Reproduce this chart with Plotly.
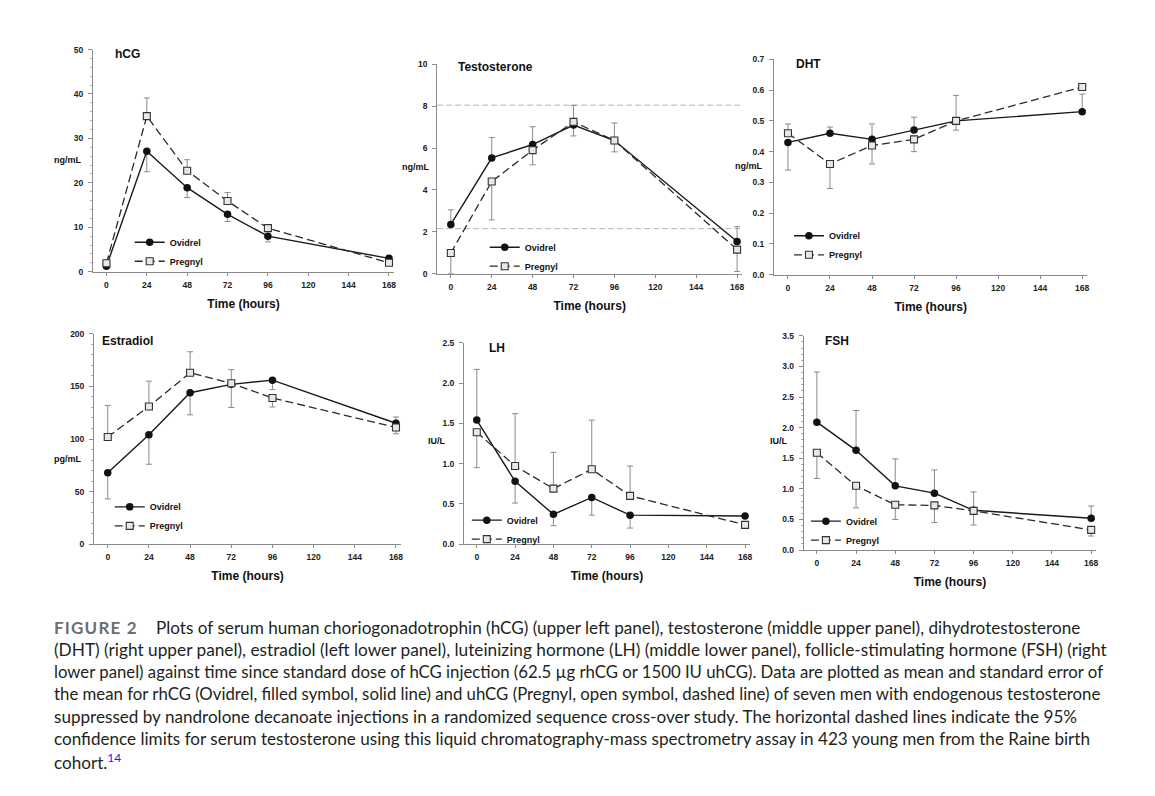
import plotly.graph_objects as go

# page pixels: the figure sits 8 px from the page's top-left corner (body margin)
OFF = 8
W, H = 1155 - OFF, 796 - OFF

hours = [0, 24, 48, 72, 96, 168]
x_ticks = [0, 24, 48, 72, 96, 120, 144, 168]
series_names = ["Ovidrel", "Pregnyl"]

# hCG (ng/mL)
hcg_ovidrel = [1.2, 27.1, 18.9, 12.9, 8.0, 3.0]
hcg_ovidrel_up = [0, 0, 0, 0, 0, 0.3]
hcg_ovidrel_dn = [0.3, 4.6, 2.2, 1.6, 1.3, 0]
hcg_pregnyl = [1.9, 35.0, 22.7, 15.9, 9.8, 2.0]
hcg_pregnyl_up = [0.4, 4.1, 2.5, 1.9, 0.5, 0]
hcg_pregnyl_dn = [0, 0, 0, 0, 0, 0.3]

# Testosterone (ng/mL)
testo_ovidrel = [2.35, 5.53, 6.17, 7.1, 6.36, 1.54]
testo_ovidrel_up = [0.70, 0.97, 0.85, 0, 0.84, 0.70]
testo_ovidrel_dn = [0, 0, 0, 0.52, 0, 0]
testo_pregnyl = [0.99, 4.4, 5.9, 7.25, 6.36, 1.15]
testo_pregnyl_up = [0, 0, 0, 0.79, 0, 0]
testo_pregnyl_dn = [0.99, 1.83, 0.70, 0, 0.54, 1.05]
testo_ref_limits = [8.05, 2.15]

# DHT (ng/mL)
dht_ovidrel = [0.43, 0.46, 0.44, 0.47, 0.50, 0.53]
dht_ovidrel_up = [0, 0.02, 0.05, 0.042, 0.083, 0.057]
dht_ovidrel_dn = [0.09, 0, 0, 0, 0, 0]
dht_pregnyl = [0.46, 0.36, 0.42, 0.44, 0.50, 0.61]
dht_pregnyl_up = [0.03, 0, 0, 0, 0, 0]
dht_pregnyl_dn = [0, 0.08, 0.06, 0.04, 0.03, 0]

# Estradiol (pg/mL)
e2_ovidrel = [68, 104, 144, 152, 156, 115]
e2_ovidrel_up = [0, 0, 0, 0, 0, 6]
e2_ovidrel_dn = [25, 28, 21, 22, 9, 0]
e2_pregnyl = [102, 131, 163, 153, 139, 111]
e2_pregnyl_up = [30, 24, 20, 13, 0, 0]
e2_pregnyl_dn = [0, 0, 0, 0, 8.5, 6]

# LH (IU/L)
lh_ovidrel = [1.54, 0.78, 0.37, 0.58, 0.36, 0.35]
lh_ovidrel_up = [0.63, 0, 0, 0, 0, 0]
lh_ovidrel_dn = [0, 0.27, 0.14, 0.22, 0.16, 0]
lh_pregnyl = [1.39, 0.97, 0.69, 0.93, 0.60, 0.24]
lh_pregnyl_up = [0, 0.65, 0.45, 0.61, 0.37, 0]
lh_pregnyl_dn = [0.44, 0, 0, 0, 0, 0]

# FSH (IU/L)
fsh_ovidrel = [2.09, 1.63, 1.05, 0.93, 0.65, 0.52]
fsh_ovidrel_up = [0.82, 0.65, 0.44, 0.38, 0.30, 0.20]
fsh_ovidrel_dn = [0, 0, 0, 0, 0, 0]
fsh_pregnyl = [1.59, 1.05, 0.74, 0.73, 0.64, 0.33]
fsh_pregnyl_up = [0, 0, 0, 0, 0, 0]
fsh_pregnyl_dn = [0.42, 0.36, 0.24, 0.28, 0.23, 0.10]

panel_titles = ["hCG", "Testosterone", "DHT", "Estradiol", "LH", "FSH"]
panel_units = ["ng/mL", "ng/mL", "ng/mL", "pg/mL", "IU/L", "IU/L"]

caption_label = "FIGURE 2"
caption_lines = [
    "Plots of serum human choriogonadotrophin (hCG) (upper left panel), testosterone (middle upper panel), dihydrotestosterone",
    "(DHT) (right upper panel), estradiol (left lower panel), luteinizing hormone (LH) (middle lower panel), follicle-stimulating hormone (FSH) (right",
    "lower panel) against time since standard dose of hCG injection (62.5 µg rhCG or 1500 IU uhCG). Data are plotted as mean and standard error of",
    "the mean for rhCG (Ovidrel, filled symbol, solid line) and uhCG (Pregnyl, open symbol, dashed line) of seven men with endogenous testosterone",
    "suppressed by nandrolone decanoate injections in a randomized sequence cross-over study. The horizontal dashed lines indicate the 95%",
    "confidence limits for serum testosterone using this liquid chromatography-mass spectrometry assay in 423 young men from the Raine birth",
    "cohort.<sup><span style='color:#1a1aff'>14</span></sup>",
]


def px_x(px):
    return (px - OFF) / W


def px_y(py):
    return 1 - (py - OFF) / H


# ---------------- layout geometry (page pixels) ----------------
XR = [-8, 171]
# (x of hour 0, x of hour 168, y of value 0, y of top value)
geom = [
    (106.7, 390.0, 270, 45),
    (452.0, 739.0, 272, 60),
    (790.0, 1085.0, 273, 55),
    (108.0, 397.0, 546, 333),
    (478.0, 747.0, 546, 342),
    (819.0, 1094.0, 552, 335),
]
yranges = [[0, 50], [0, 10], [0, 0.7], [0, 200], [0, 2.5], [0, 3.5]]
ydticks = [10, 2, 0.1, 50, 0.5, 0.5]
yfmt = ["d", "d", ".1f", "d", ".1f", ".1f"]
yminor = [2, None, None, 10, None, 0.1]
unit_pos = [(83, 157), (432, 164), (766, 163), (83, 460), (449, 442), (792, 442)]
title_pos = [(113, 50), (457, 63), (796, 60), (100, 340), (488, 347), (825, 340)]
legend_rows = [(137, 243, 257), (493, 249, 261), (798, 238, 249),
               (117, 512, 524), (475, 526, 537), (815, 527, 538)]

data_sets = [
    (hcg_ovidrel, hcg_ovidrel_up, hcg_ovidrel_dn, hcg_pregnyl, hcg_pregnyl_up, hcg_pregnyl_dn),
    (testo_ovidrel, testo_ovidrel_up, testo_ovidrel_dn, testo_pregnyl, testo_pregnyl_up, testo_pregnyl_dn),
    (dht_ovidrel, dht_ovidrel_up, dht_ovidrel_dn, dht_pregnyl, dht_pregnyl_up, dht_pregnyl_dn),
    (e2_ovidrel, e2_ovidrel_up, e2_ovidrel_dn, e2_pregnyl, e2_pregnyl_up, e2_pregnyl_dn),
    (lh_ovidrel, lh_ovidrel_up, lh_ovidrel_dn, lh_pregnyl, lh_pregnyl_up, lh_pregnyl_dn),
    (fsh_ovidrel, fsh_ovidrel_up, fsh_ovidrel_dn, fsh_pregnyl, fsh_pregnyl_up, fsh_pregnyl_dn),
]

FONT = "Liberation Sans, Arial, sans-serif"
AXC = "#8a8a8a"
ERRC = "#8a8a8a"

fig = go.Figure()
layout = dict(
    width=W, height=H,
    margin=dict(l=0, r=0, t=0, b=0),
    paper_bgcolor="white", plot_bgcolor="white",
    showlegend=True,
    annotations=[], shapes=[],
)

for i, (g, ds) in enumerate(zip(geom, data_sets)):
    n = i + 1
    sfx = "" if n == 1 else str(n)
    x0, x168, py0, pytop = g
    pph = (x168 - x0) / 168.0
    xl = x0 + XR[0] * pph
    xr = x0 + XR[1] * pph
    xdom = [px_x(xl), px_x(xr)]
    ydom = [px_y(py0), px_y(pytop)]
    leg = "legend" if n == 1 else "legend%d" % n

    ov, ovu, ovd, pr, pru, prd = ds
    fig.add_trace(go.Scatter(
        x=hours, y=ov, name=series_names[0], mode="lines+markers",
        xaxis="x" + sfx, yaxis="y" + sfx, legend=leg, cliponaxis=False,
        line=dict(color="#1a1a1a", width=1.4),
        marker=dict(symbol="circle", size=7.5, color="#111111"),
        error_y=dict(type="data", symmetric=False, array=ovu, arrayminus=ovd,
                     color=ERRC, thickness=1, width=3),
    ))
    fig.add_trace(go.Scatter(
        x=hours, y=pr, name=series_names[1], mode="lines+markers",
        xaxis="x" + sfx, yaxis="y" + sfx, legend=leg, cliponaxis=False,
        line=dict(color="#2a2a2a", width=1.3, dash="8px,4px"),
        marker=dict(symbol="square", size=7, color="#e8e8e8",
                    line=dict(color="#333333", width=1.1)),
        error_y=dict(type="data", symmetric=False, array=pru, arrayminus=prd,
                     color=ERRC, thickness=1, width=3),
    ))

    xa = dict(
        domain=xdom, anchor="y" + sfx, range=XR,
        tickmode="array", tickvals=x_ticks, ticktext=[str(v) for v in x_ticks],
        showline=True, linecolor=AXC, linewidth=1,
        ticks="outside", ticklen=3, tickcolor=AXC,
        ticklabelstandoff=2,
        showgrid=False, zeroline=False,
        tickfont=dict(family=FONT, size=8.5, color="#222", weight="bold"),
        title=dict(text="Time (hours)", standoff=10,
                   font=dict(family=FONT, size=12, color="#111", weight="bold")),
    )
    ya = dict(
        domain=ydom, anchor="x" + sfx, range=yranges[i],
        dtick=ydticks[i], tick0=0, tickformat=yfmt[i],
        showline=True, linecolor=AXC, linewidth=1,
        ticks="outside", ticklen=4, tickcolor=AXC,
        ticklabelstandoff=3,
        showgrid=False, zeroline=False,
        tickfont=dict(family=FONT, size=8.5, color="#222", weight="bold"),
    )
    if yminor[i]:
        ya["minor"] = dict(dtick=yminor[i], ticks="outside", ticklen=2, tickcolor="#b0b0b0")
    layout["xaxis" + sfx] = xa
    layout["yaxis" + sfx] = ya

    lx, r1, r2 = legend_rows[i]
    row1 = (r1 + r2) / 2.0 - 9.5
    layout[leg] = dict(
        x=px_x(lx - 7), y=px_y(row1 - 15), xanchor="left", yanchor="top",
        bgcolor="rgba(0,0,0,0)", borderwidth=0, itemwidth=30,
        tracegroupgap=0,
        font=dict(family=FONT, size=9, color="#111", weight="bold"),
    )

    ux, uy = unit_pos[i]
    layout["annotations"].append(dict(
        text=panel_units[i], x=px_x(ux), y=px_y(uy), xref="paper", yref="paper",
        xanchor="right", yanchor="middle", showarrow=False,
        font=dict(family=FONT, size=9, color="#111", weight="bold"),
    ))
    tx, ty = title_pos[i]
    layout["annotations"].append(dict(
        text=panel_titles[i], x=px_x(tx), y=px_y(ty), xref="paper", yref="paper",
        xanchor="left", yanchor="middle", showarrow=False,
        font=dict(family=FONT, size=12, color="#111", weight="bold"),
    ))

# testosterone reference limits
for v in testo_ref_limits:
    layout["shapes"].append(dict(
        type="line", xref="x2 domain", yref="y2", x0=0, x1=1, y0=v, y1=v,
        line=dict(color="#b5b5b5", width=1, dash="6px,3px"), layer="below",
    ))

# caption
CAPF = "Lato, Noto Sans, sans-serif"
line_y = [630, 652.7, 675.3, 697.7, 720.3, 743.3, 765.7]
line_size = [17.15, 17.25, 16.75, 16.8, 17.1, 17.1, 17.1]
layout["annotations"].append(dict(
    text="<span style='letter-spacing:1.2px'>" + caption_label + "</span>",
    x=px_x(52), y=px_y(line_y[0]), xref="paper", yref="paper",
    xanchor="left", yanchor="middle", showarrow=False,
    font=dict(family=CAPF, size=17, color="#6d6e71", weight="bold"),
))
for k, t in enumerate(caption_lines):
    xs = 154 if k == 0 else 52
    layout["annotations"].append(dict(
        text=t, x=px_x(xs), y=px_y(line_y[k]), xref="paper", yref="paper",
        xanchor="left", yanchor="middle", showarrow=False, align="left",
        font=dict(family=CAPF, size=line_size[k], color="#231f20"),
    ))

fig.update_layout(**layout)
fig.write_html("out.html")
